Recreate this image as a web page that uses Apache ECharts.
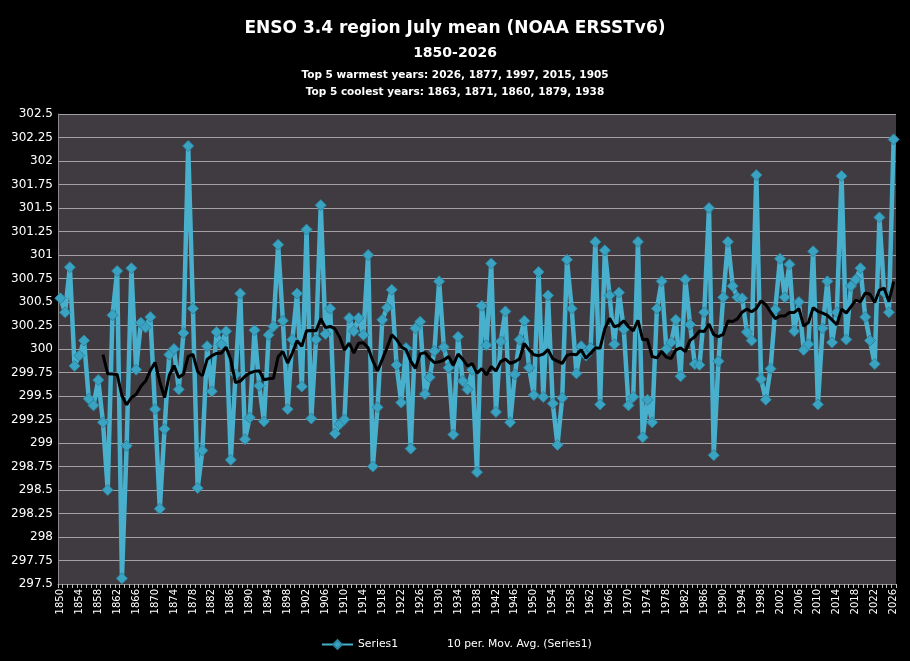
<!DOCTYPE html>
<html>
<head>
<meta charset="utf-8">
<title>ENSO 3.4 region July mean</title>
<script src="https://cdn.jsdelivr.net/npm/echarts@6/dist/echarts.min.js"></script>
<style>
  html, body { margin: 0; padding: 0; background: #000; }
  #chart { width: 910px; height: 661px; }
</style>
</head>
<body>
<div id="chart"></div>
<script>
/**
 * ENSO 3.4 region July mean (NOAA ERSSTv6), 1850-2026
 */

const FIRST_YEAR = 1850;
const LAST_YEAR = 2026;

// July mean SST (K), one value per year from 1850 to 2026
const julyMean = [
  300.54, 300.39, 300.87, 299.82, 299.93, 300.09, 299.47, 299.40, 299.67, 299.22, // 1850s
  298.50, 300.36, 300.83, 297.56, 298.97, 300.86, 299.78, 300.28, 300.23, 300.34, // 1860s
  299.36, 298.30, 299.15, 299.94, 300.00, 299.57, 300.17, 302.16, 300.43, 298.52, // 1870s
  298.92, 300.03, 299.55, 300.18, 300.05, 300.19, 298.82, 299.73, 300.59, 299.04, // 1880s
  299.27, 300.20, 299.61, 299.23, 300.15, 300.24, 301.11, 300.30, 299.36, 300.10, // 1890s
  300.59, 299.60, 301.27, 299.26, 300.10, 301.53, 300.16, 300.43, 299.10, 299.20, // 1900s
  299.25, 300.33, 300.19, 300.33, 300.15, 301.00, 298.75, 299.38, 300.31, 300.44, // 1910s
  300.63, 299.83, 299.43, 300.01, 298.94, 300.22, 300.29, 299.52, 299.70, 299.98, // 1920s
  300.72, 300.02, 299.80, 299.09, 300.13, 299.66, 299.57, 299.78, 298.69, 300.46, // 1930s
  300.04, 300.91, 299.33, 300.08, 300.40, 299.22, 299.73, 300.10, 300.30, 299.80, // 1940s
  299.51, 300.82, 299.49, 300.57, 299.42, 298.98, 299.48, 300.95, 300.43, 299.74, // 1950s
  300.03, 299.93, 300.01, 301.14, 299.41, 301.05, 300.57, 300.05, 300.60, 300.21, // 1960s
  299.40, 299.49, 301.14, 299.06, 299.46, 299.22, 300.43, 300.72, 300.00, 300.07, // 1970s
  300.31, 299.71, 300.74, 300.26, 299.84, 299.83, 300.39, 301.50, 298.87, 299.87, // 1980s
  300.55, 301.14, 300.67, 300.55, 300.54, 300.18, 300.09, 301.85, 299.68, 299.46, // 1990s
  299.79, 300.42, 300.96, 300.55, 300.90, 300.19, 300.50, 299.99, 300.05, 301.04, // 2000s
  299.41, 300.22, 300.72, 300.07, 300.39, 301.84, 300.10, 300.67, 300.74, 300.86, // 2010s
  300.34, 300.09, 299.84, 301.40, 300.60, 300.39, 302.23                          // 2020s
];

const warmestYears = [2026, 1877, 1997, 2015, 1905];
const coolestYears = [1863, 1871, 1860, 1879, 1938];

const MA_PERIOD = 10;
const Y_MIN = 297.5;
const Y_MAX = 302.5;
const Y_STEP = 0.25;

const FONT = 'Tahoma, "DejaVu Sans", sans-serif';

function buildYears() {
  const years = [];
  for (let y = FIRST_YEAR; y <= LAST_YEAR; y++) years.push(String(y));
  return years;
}

// Excel style trailing moving average: blank until a full window is available
function movingAverage(values, period) {
  return values.map((_, i) => {
    if (i < period - 1) return null;
    let sum = 0;
    for (let k = i - period + 1; k <= i; k++) sum += values[k];
    return +(sum / period).toFixed(3);
  });
}

function renderChart() {
  const dom = document.getElementById("chart");
  const chart = echarts.init(dom, null, { renderer: "canvas" });
  const years = buildYears();

  chart.setOption({
    backgroundColor: "#000",
    animation: false,
    textStyle: { fontFamily: FONT },
    title: [
      {
        text: "ENSO 3.4 region July mean (NOAA ERSSTv6)",
        left: "center",
        top: 15,
        textStyle: { color: "#fff", fontSize: 17, fontWeight: "bold", fontFamily: FONT },
      },
      {
        text: FIRST_YEAR + "-" + LAST_YEAR,
        left: "center",
        top: 41,
        textStyle: { color: "#fff", fontSize: 14, fontWeight: "bold", fontFamily: FONT },
      },
      {
        text: "Top 5 warmest years: " + warmestYears.join(", "),
        left: "center",
        top: 65,
        textStyle: { color: "#fff", fontSize: 10.5, fontWeight: "bold", fontFamily: FONT },
      },
      {
        text: "Top 5 coolest years: " + coolestYears.join(", "),
        left: "center",
        top: 82,
        textStyle: { color: "#fff", fontSize: 10.5, fontWeight: "bold", fontFamily: FONT },
      },
    ],
    legend: {
      left: 316,
      top: 634,
      itemWidth: 31,
      itemHeight: 11,
      itemGap: 12,
      textStyle: { color: "#fff", fontSize: 10.8, fontFamily: FONT },
      data: ["Series1", "10 per. Mov. Avg. (Series1)"],
    },
    grid: {
      left: 58,
      top: 114,
      width: 838,
      height: 470,
      show: true,
      backgroundColor: "#403b40",
      borderWidth: 0,
    },
    xAxis: {
      type: "category",
      data: years,
      boundaryGap: true,
      axisLine: { show: true, lineStyle: { color: "#8a8a8a", width: 1 } },
      axisTick: { show: true, interval: 0, length: 4, lineStyle: { color: "#bdbdbd" } },
      axisLabel: {
        interval: 3,
        rotate: 90,
        color: "#fff",
        fontSize: 10,
        margin: 5,
        fontFamily: FONT,
      },
      splitLine: { show: false },
    },
    yAxis: {
      type: "value",
      min: Y_MIN,
      max: Y_MAX,
      interval: Y_STEP,
      axisLine: { show: true, lineStyle: { color: "#8a8a8a", width: 1 } },
      axisTick: { show: false },
      axisLabel: {
        color: "#fff",
        fontSize: 12,
        margin: 5,
        fontFamily: FONT,
        formatter: (v) => String(+v.toFixed(2)),
      },
      splitLine: { show: true, lineStyle: { color: "#a3a0a3", width: 1 } },
    },
    series: [
      {
        name: "Series1",
        type: "line",
        data: julyMean,
        symbol: "diamond",
        symbolSize: 11,
        showAllSymbol: true,
        lineStyle: { color: "#48afcc", width: 4.5 },
        itemStyle: { color: "#3aa3c2", borderColor: "#2a86a3", borderWidth: 1 },
        z: 2,
      },
      {
        name: "10 per. Mov. Avg. (Series1)",
        type: "line",
        data: movingAverage(julyMean, MA_PERIOD),
        symbol: "none",
        connectNulls: false,
        lineStyle: { color: "#000", width: 3 },
        itemStyle: { color: "#000" },
        z: 3,
      },
    ],
  });

  return chart;
}

renderChart();
</script>
</body>
</html>
